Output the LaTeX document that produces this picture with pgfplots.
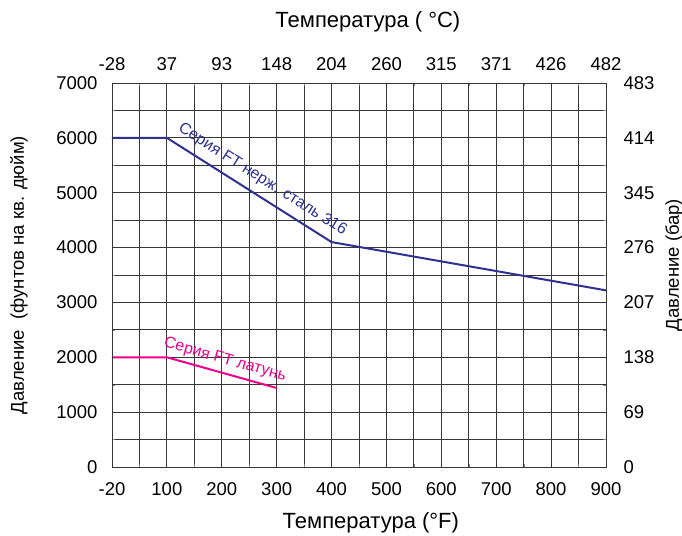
\documentclass[border=0pt]{standalone}
\usepackage{pgfplots}
\pgfplotsset{compat=1.18}
\usepackage{fontspec}
\setmainfont{Liberation Sans}
\definecolor{ftnavy}{RGB}{46,49,146}
\definecolor{ftpink}{RGB}{236,0,140}
\definecolor{gridc}{RGB}{55,55,55}
\begin{document}
\begin{tikzpicture}
\path[use as bounding box] (-112pt,-68pt) rectangle (570pt,467pt);
\pgfplotsset{
  common/.style={
    at={(0pt,0pt)}, anchor=south west,
    scale only axis, width=494pt, height=384pt,
    xmin=0, xmax=900, ymin=0, ymax=7000,
    xtick={0,100,...,900}, ytick={0,1000,...,7000},
    major tick length=0pt,
    axis line style={draw=gridc, line width=0.8pt},
    tick label style={font=\fontsize{18.5}{20}\selectfont},
    xlabel style={font=\fontsize{22}{24}\selectfont},
    ylabel style={font=\fontsize{18.5}{22}\selectfont},
    /pgf/number format/assume math mode=true,
  }
}
\begin{axis}[common,
  minor xtick={50,150,...,850}, minor ytick={500,1500,...,6500},
  grid=both, major grid style={draw=gridc, line width=0.8pt}, minor grid style={draw=gridc, line width=0.8pt},
  xticklabels={-20,100,200,300,400,500,600,700,800,900},
  yticklabels={0,1000,2000,3000,4000,5000,6000,7000},
  xticklabel style={yshift=-12pt},
  yticklabel style={xshift=-11pt},
  xlabel={Температура (°F)},
  xlabel style={at={(axis description cs:0.524,-0.1458)}, anchor=center},
  ylabel={Давление\ \ (фунтов на кв. дюйм)},
  ylabel style={at={(axis description cs:-0.1883,0.5)}, anchor=center},
]
\addplot[color=ftnavy, line width=2pt] coordinates {(0,6000)(100,6000)(400,4100)(900,3220)};
\addplot[color=ftpink, line width=2pt] coordinates {(0,2000)(100,2000)(300,1440)};
\node[rotate=-32.3, yshift=15.7pt, anchor=center, text=ftnavy, inner sep=0pt, font=\fontsize{16}{18}\selectfont] at (axis cs:259,4993) {Серия FT нерж. сталь 316};
\node[rotate=-15.6, yshift=13.1pt, anchor=center, text=ftpink, inner sep=0pt, font=\fontsize{16}{18}\selectfont] at (axis cs:199.5,1721) {Серия FT латунь};
\end{axis}
\begin{axis}[common,
  xticklabel pos=upper, yticklabel pos=right,
  xticklabels={-28,37,93,148,204,260,315,371,426,482},
  yticklabels={0,69,138,207,276,345,414,483},
  xticklabel style={yshift=9pt},
  yticklabel style={xshift=14pt},
  xlabel={Температура ( °C)},
  xlabel style={at={(axis description cs:0.518,1.159)}, anchor=center},
  ylabel={Давление (бар)},
  ylabel style={at={(axis description cs:1.1377,0.526)}, anchor=center},
]
\end{axis}
\end{tikzpicture}
\end{document}
